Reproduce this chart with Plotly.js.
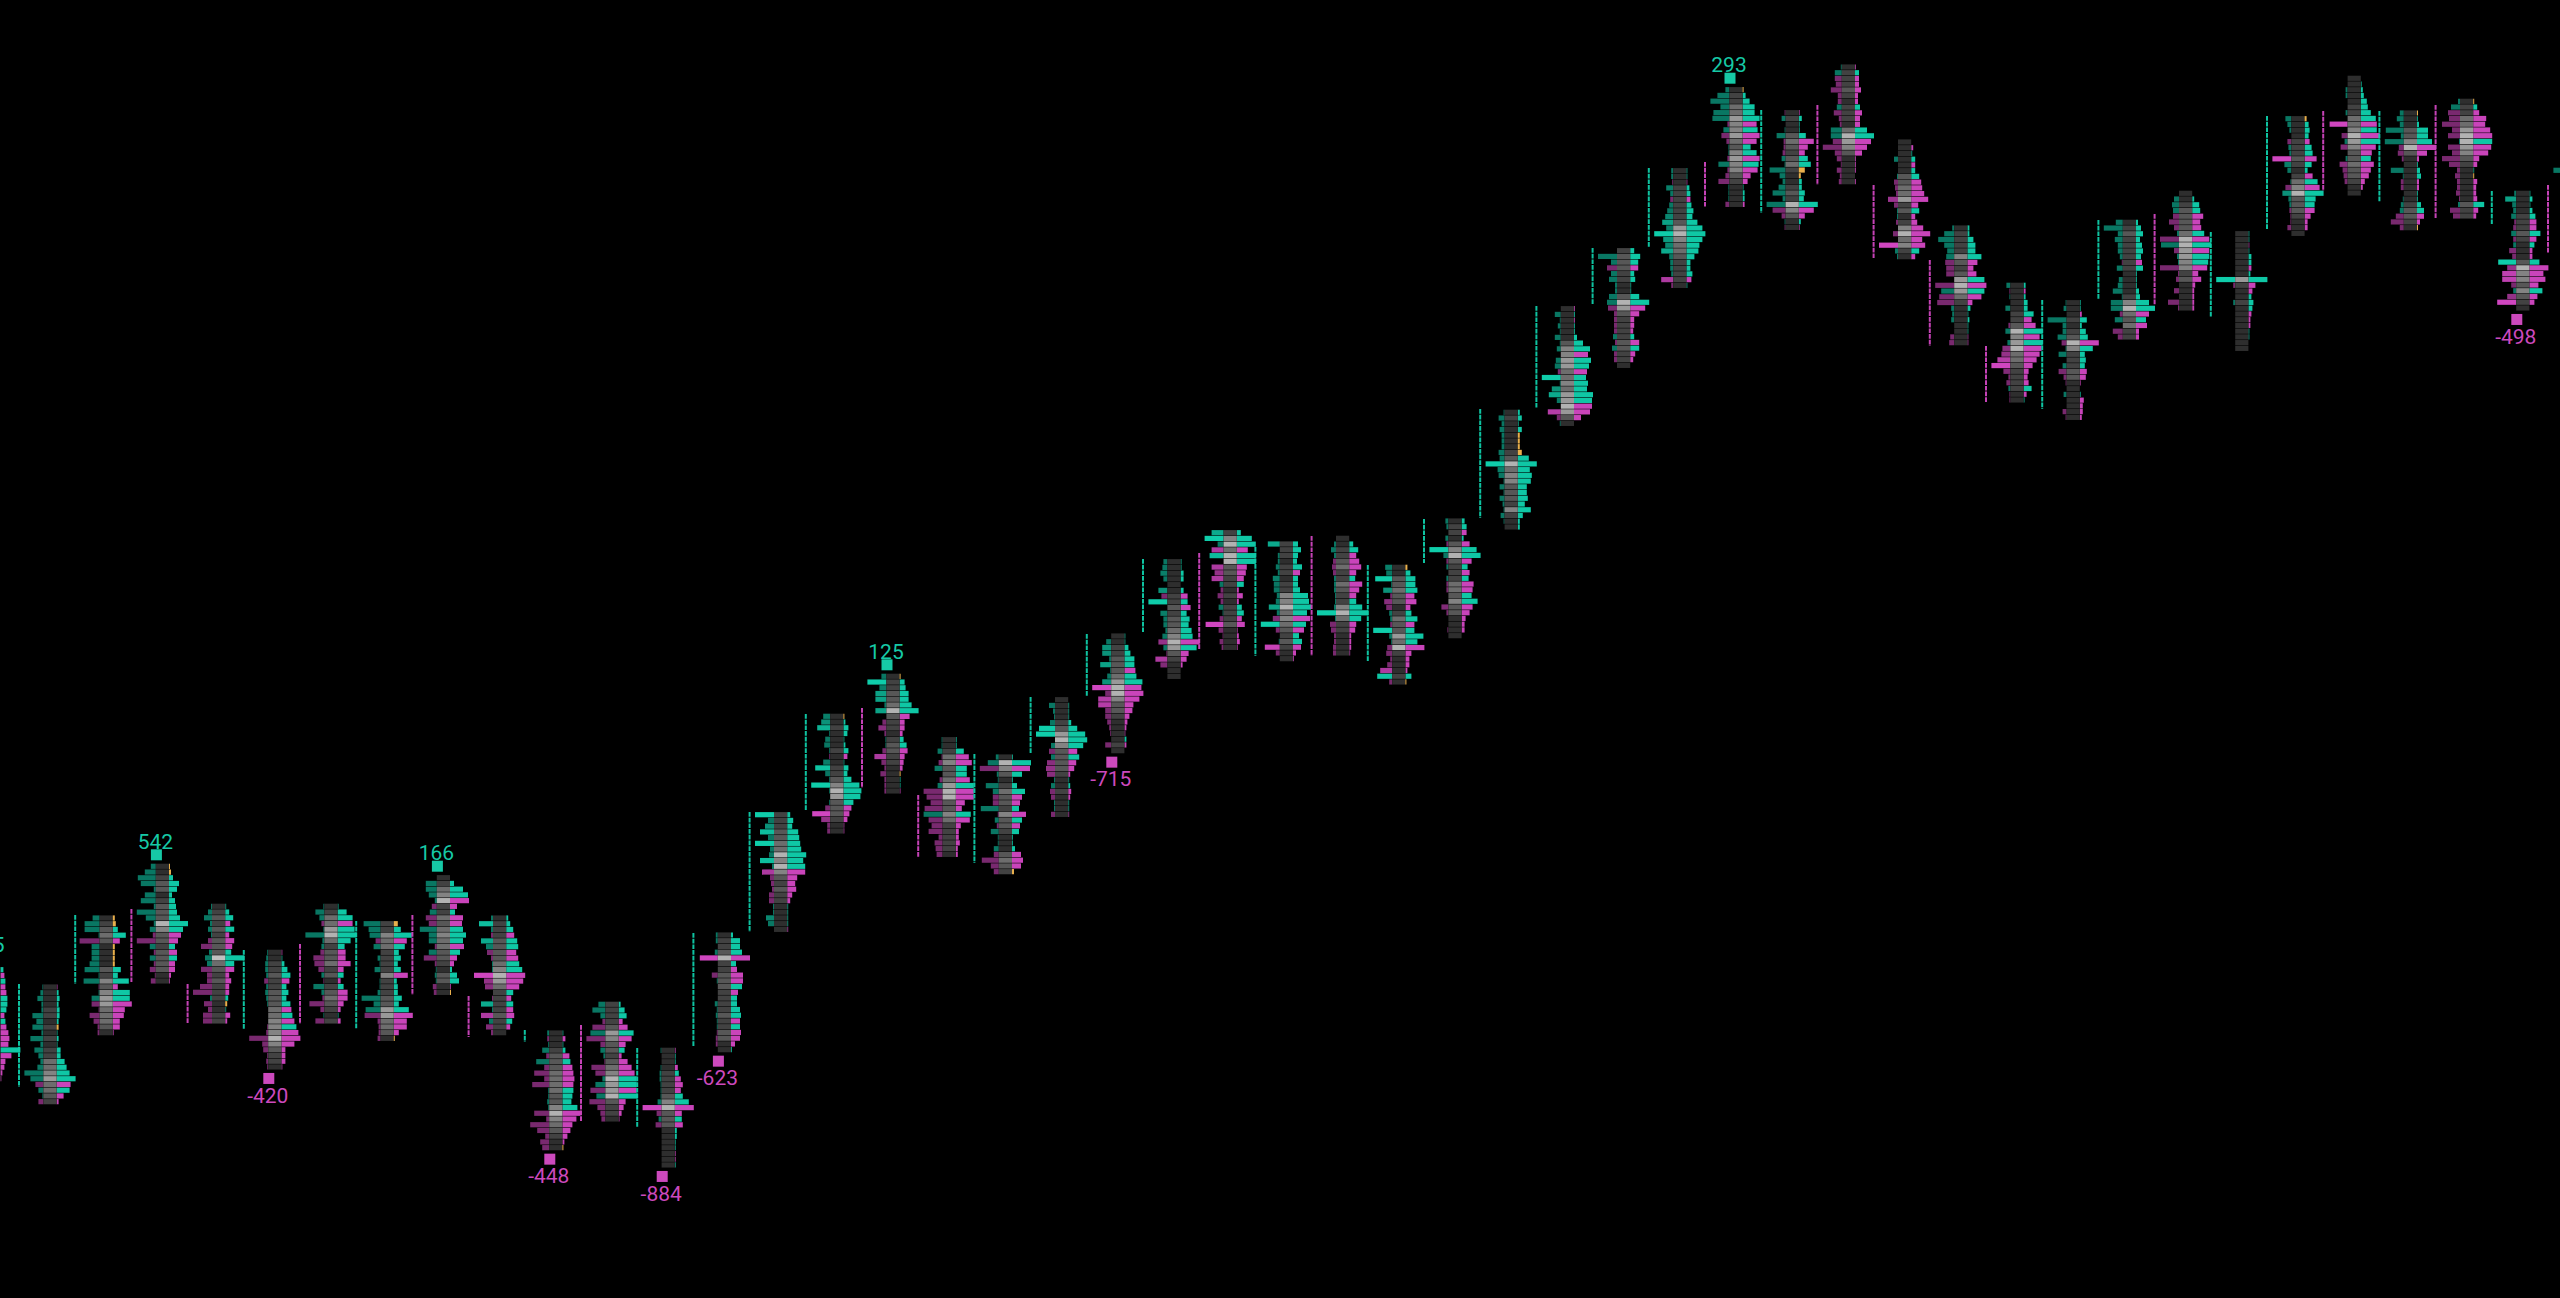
<!DOCTYPE html>
<html><head><meta charset="utf-8">
<script src="https://cdn.plot.ly/plotly-3.0.1.min.js"></script>
<style>html,body{margin:0;padding:0;background:#000;overflow:hidden}#chart{width:2560px;height:1298px}</style>
</head><body><div id="chart"></div>
<script>
// Each candle: rows of [left, right, midShade]. Sign: + buy (teal), - sell (magenta).
const cm1=[[0,3,1],[0,-4,1],[0,5,1],[0,-5,1],[0,-6,1],[0,7,1],[0,7,1],[0,6,1],[0,-4,1],[0,5,1],[0,-6,1],[0,-8,1],[0,-9,1],[0,-8,1],[0,20,1],[0,-11,1],[0,-5,1],[0,-4,1],[0,-2,1],[0,-1,1]];
const c00=[[1,-1,1],[3,2,1],[6,3,1],[2,2,1],[2,3,2],[11,3,2],[7,2,1],[11,0,2],[2,1,1],[13,2,2],[3,1,1],[9,4,2],[5,4,2],[3,8,4],[6,10,4],[19,13,5],[13,19,6],[-8,-14,4],[5,13,4],[1,-7,3],[-5,-2,2]];
const c01=[[7,0,1],[15,0,2],[15,5,3],[1,13,4],[-20,-7,3],[8,0,1],[8,0,1],[8,0,1],[10,0,1],[15,8,3],[1,5,2],[16,16,5],[-1,-5,3],[1,17,5],[8,17,6],[-8,-19,6],[-1,-12,4],[-10,-11,4],[-6,-7,4],[-2,-7,3],[-2,-1,1]];
const c02=[[5,0,1],[11,0,1],[18,4,2],[15,10,3],[2,8,3],[11,3,1],[15,6,2],[2,7,3],[19,8,3],[10,11,3],[2,19,7],[6,14,5],[-3,-12,3],[-19,-9,3],[6,6,2],[-2,-8,3],[6,8,3],[-2,-6,3],[-6,-6,3],[-1,-2,1],[-5,-1,1]];
const c03=[[1,1,1],[4,4,2],[8,8,3],[2,-5,2],[4,9,3],[1,-4,2],[-4,-9,3],[-11,-7,3],[3,6,3],[7,19,8],[5,9,4],[-11,-9,3],[-5,-4,2],[-5,-6,3],[-12,-4,2],[-19,-4,2],[2,3,2],[-8,0,1],[-4,1,1],[-9,-5,2],[-9,-2,2]];
const c04=[[1,-1,1],[2,1,1],[3,3,2],[3,6,2],[2,9,3],[-4,-8,2],[2,5,2],[3,7,3],[2,5,3],[1,9,3],[0,-10,4],[0,11,4],[0,-13,5],[-1,15,5],[-2,-17,5],[-19,-19,7],[-6,-13,5],[-5,-4,3],[-1,-4,2],[-2,-4,2],[-1,-1,1]];
const c05=[[1,1,1],[9,9,2],[5,15,4],[-3,-15,4],[1,17,6],[19,19,7],[2,13,4],[3,7,2],[-4,-8,3],[-11,-8,3],[-10,-13,4],[-6,-6,2],[3,6,3],[-1,-3,1],[11,6,2],[3,-10,3],[-2,-10,4],[-15,-6,3],[-4,-3,2],[1,1,1],[-9,-3,2]];
const c06=[[17,0,2],[12,7,2],[11,18,5],[-5,-13,4],[7,11,4],[0,5,2],[3,7,2],[1,4,2],[6,7,2],[0,-14,5],[1,3,2],[1,4,2],[3,4,2],[19,8,3],[7,5,3],[15,15,6],[-16,-19,6],[-3,-13,4],[-2,-13,4],[-2,-5,3],[-3,0,1]];
const c07=[[0,0,1],[11,4,2],[11,13,4],[8,18,5],[2,-19,7],[-5,-7,2],[7,5,2],[-11,-13,4],[-8,-12,3],[17,13,4],[8,16,5],[8,13,4],[-2,-14,4],[8,10,3],[-13,-7,3],[-2,-4,2],[1,2,1],[2,7,3],[1,9,3],[-4,-1,1],[-3,0,1]];
const c08=[[2,2,1],[14,4,2],[2,7,2],[-2,-8,2],[12,11,3],[7,12,3],[-6,-10,3],[-2,-12,3],[1,13,4],[1,16,5],[-19,-19,7],[-9,-17,6],[-8,-13,4],[0,7,2],[-1,-5,2],[12,7,2],[1,-7,2],[-12,-8,3],[4,6,2],[-7,-4,2],[-2,0,1]];
const c09=[[2,1,1],[-2,-3,1],[1,1,1],[7,3,2],[-3,-7,3],[13,8,3],[-5,-10,3],[-15,-11,4],[-5,-12,4],[-17,-11,4],[1,11,4],[1,10,3],[2,9,3],[1,15,5],[-15,-18,7],[-3,-14,5],[-19,-10,4],[-12,-8,3],[-4,-5,2],[-9,-2,1],[-7,0,1]];
const c10=[[7,2,2],[13,6,2],[5,8,2],[-3,-4,2],[-13,-9,3],[15,15,6],[-19,-13,5],[-5,-7,3],[5,6,3],[2,-3,2],[-1,-9,3],[-14,-13,4],[-10,-16,5],[3,18,7],[10,18,6],[-15,-18,6],[9,19,7],[-16,-7,3],[-8,-5,2],[-5,-3,2],[-4,-1,1]];
const c11=[[1,-1,1],[0,1,1],[0,1,1],[1,-3,1],[2,4,2],[2,-6,2],[1,-8,2],[1,-6,2],[1,8,3],[4,14,5],[-19,-19,7],[-5,-7,3],[3,7,3],[-6,-8,3],[0,2,1],[0,2,1],[0,1,1],[0,1,1],[0,-1,1],[0,-1,1],[0,1,1]];
const c12=[[2,2,1],[2,9,2],[0,9,2],[3,11,3],[-18,-19,7],[0,5,2],[0,-6,2],[-6,-12,3],[1,-12,3],[0,11,3],[0,-7,2],[0,6,2],[3,6,2],[1,9,2],[2,10,3],[1,-9,2],[1,9,2],[-1,-10,3],[-2,-9,3],[-2,-4,1],[0,1,1]];
const c13=[[19,3,2],[6,6,2],[9,5,2],[14,11,3],[6,12,3],[19,13,4],[4,14,4],[5,19,7],[14,16,5],[2,18,7],[-12,-18,5],[-4,-10,3],[-3,-8,2],[-2,-9,3],[-5,-5,2],[-5,-3,2],[1,1,1],[1,1,1],[8,1,1],[6,1,1],[0,-1,1]];
const c14=[[7,0,1],[9,2,1],[13,5,2],[1,4,1],[5,1,1],[6,2,1],[1,5,2],[-1,-4,1],[7,1,1],[15,5,2],[5,4,2],[1,8,3],[19,16,5],[1,18,7],[0,17,6],[1,10,3],[-5,-8,3],[-18,-6,3],[-9,-4,2],[-3,-1,1],[-3,-1,1]];
const c15=[[5,0,1],[19,5,2],[7,6,2],[11,9,3],[11,9,3],[2,12,4],[11,19,7],[0,-10,3],[-4,-5,2],[-8,-5,2],[-2,-3,1],[1,4,2],[1,7,3],[-4,-8,3],[-12,-5,2],[-5,-4,2],[-2,-3,1],[-6,0,1],[-2,1,1],[-2,1,1],[-2,-1,1]];
const c16=[[1,1,1],[1,1,1],[5,8,2],[-1,-13,4],[-4,-16,5],[8,11,3],[0,11,3],[-3,-14,4],[5,18,6],[-19,-18,7],[-16,-18,7],[-12,-9,3],[-18,-6,3],[19,15,5],[-14,-14,4],[-11,-5,2],[-14,-3,2],[-4,-3,2],[-8,-4,2],[-7,-2,2],[-6,-2,1]];
const c17=[[3,1,1],[11,19,7],[-19,-18,5],[2,10,3],[1,1,1],[13,5,2],[6,13,4],[-6,-10,3],[-6,-8,3],[18,7,2],[-1,-14,5],[4,10,3],[-2,-8,3],[8,7,2],[1,1,1],[1,1,1],[5,3,1],[-5,-9,3],[-17,-11,4],[-8,-9,3],[-5,0,2]];
const c18=[[0,0,1],[6,1,1],[2,1,1],[1,1,1],[5,3,2],[16,9,3],[19,17,6],[0,19,7],[4,15,5],[-6,-9,3],[4,11,3],[-8,-8,3],[-9,-6,3],[-8,-2,2],[1,1,1],[4,2,1],[-5,-3,2],[-4,-2,1],[1,1,1],[1,1,1],[-4,-1,1]];
const c19=[[0,1,1],[5,1,1],[9,4,2],[9,6,2],[2,10,3],[11,10,3],[1,-11,3],[4,12,4],[9,18,6],[-19,-17,7],[-6,-19,7],[-13,-15,5],[-13,-9,3],[-6,-8,3],[-6,-5,2],[-4,-3,1],[-2,-2,1],[-1,-1,1],[0,2,1],[-6,-2,2],[0,0,1]];
const c20=[[4,1,1],[5,1,1],[7,3,1],[4,3,1],[0,0,1],[9,3,1],[-6,-7,2],[19,7,2],[0,-10,3],[7,6,2],[4,9,3],[4,8,3],[2,11,4],[5,12,5],[-9,-19,7],[4,16,6],[-1,-8,3],[-12,-6,2],[-7,-2,1],[0,0,1],[0,0,1]];
const c21=[[12,4,2],[19,15,5],[6,19,7],[-12,-11,4],[14,19,7],[0,19,7],[-12,-10,3],[-9,-9,3],[-12,-7,2],[4,7,2],[-3,-2,1],[-6,-6,2],[-3,-2,1],[5,5,2],[1,7,2],[-4,-5,2],[-18,-8,3],[-5,-1,1],[-1,-2,1],[-4,-3,1],[-2,-1,1]];
const c22=[[12,5,2],[0,8,2],[2,5,2],[2,4,1],[4,9,2],[2,-7,2],[7,5,1],[6,5,2],[6,7,2],[3,15,5],[4,16,5],[11,18,7],[3,14,4],[-7,-17,5],[19,13,4],[-4,-11,3],[0,6,2],[1,9,3],[-15,-8,2],[-4,-3,1],[0,-1,1]];
const c23=[[0,0,1],[2,4,1],[5,9,2],[2,-7,2],[-3,-10,3],[-4,-12,4],[-3,-7,2],[2,6,2],[2,-13,4],[2,-10,3],[1,-7,2],[1,7,2],[2,13,5],[19,19,7],[1,12,4],[-6,-7,2],[-5,-6,2],[-2,-2,1],[-2,-2,1],[-3,-2,1],[-3,-1,1]];
const c24=[[7,0,1],[6,5,1],[17,10,3],[1,10,3],[9,12,4],[-2,-9,3],[-8,-11,3],[-6,-5,1],[3,6,2],[2,12,4],[-2,-9,3],[19,9,3],[3,18,6],[1,12,4],[-5,-19,7],[-6,-6,2],[-2,-4,1],[-5,-4,1],[-12,-2,1],[15,6,2],[-3,0,1]];
const c25=[[3,3,1],[2,5,2],[0,-5,2],[3,2,1],[-2,-8,3],[19,15,5],[5,19,7],[-2,-10,3],[2,6,2],[0,-8,2],[2,7,2],[-2,-12,4],[-2,-11,4],[0,10,3],[0,16,5],[-7,-11,3],[-2,-8,3],[0,-4,1],[0,-3,1],[-1,-3,1],[0,0,1]];
const c26=[[1,2,1],[6,4,2],[3,1,1],[5,4,1],[3,0,1],[3,0,1],[3,0,1],[6,0,2],[5,11,3],[19,19,7],[7,12,4],[6,14,5],[1,13,5],[5,9,3],[1,9,3],[5,10,3],[2,7,2],[1,13,5],[4,5,2],[1,2,1],[0,2,1]];
const c27=[[0,-1,1],[6,1,1],[1,-1,1],[3,1,1],[1,1,1],[6,3,1],[1,9,3],[4,16,5],[0,-14,5],[5,17,6],[6,15,6],[-3,-13,4],[19,12,4],[1,14,5],[9,13,4],[12,19,6],[4,18,6],[0,-18,7],[-13,-16,6],[-4,-7,3],[1,0,1]];
const c28=[[0,4,2],[19,10,3],[6,8,3],[-10,-8,3],[6,4,2],[8,5,2],[2,1,1],[2,1,1],[8,9,3],[10,19,7],[-9,-15,6],[-3,-9,3],[-3,-4,2],[-3,-4,2],[-3,-3,2],[4,4,2],[-2,-9,3],[5,9,3],[-3,-5,2],[-3,-3,2],[0,0,1]];
const c29=[[2,1,1],[2,1,1],[-1,-1,1],[7,3,2],[3,4,2],[-3,-4,2],[4,5,2],[6,7,2],[8,6,2],[11,11,3],[7,16,6],[19,19,7],[10,16,5],[8,13,4],[12,12,4],[4,8,3],[3,4,2],[3,4,2],[2,6,2],[-12,-5,2],[-2,1,1]];
const c30=[[4,0,1],[12,3,2],[19,7,2],[9,12,4],[16,12,4],[17,17,6],[-2,-14,5],[6,15,5],[-8,-17,6],[-3,-14,4],[1,8,3],[1,14,5],[-2,-17,6],[11,16,5],[-2,-15,5],[-4,-8,3],[-11,-5,2],[1,1,1],[1,2,1],[1,2,1],[-4,-2,1]];
const c31=[[-1,-1,1],[4,3,2],[0,1,1],[1,1,1],[9,7,3],[-2,-15,4],[-2,-9,3],[-3,-6,2],[4,9,3],[1,12,4],[16,0,2],[6,0,1],[3,3,1],[7,3,2],[13,6,3],[3,5,2],[19,19,7],[-13,-15,5],[-4,-6,3],[1,2,1],[-1,-1,1]];
const c32=[[1,-1,1],[7,4,2],[-7,-4,2],[-6,-4,2],[-11,-6,3],[-4,-3,2],[-4,-3,1],[5,5,2],[-8,-7,2],[-3,-5,2],[-2,-5,1],[11,12,4],[11,19,7],[-9,-16,6],[-19,-12,5],[-7,-7,3],[-5,-1,1],[-1,-1,1],[-5,-1,1],[-2,0,1],[-3,-1,1]];
const c33=[[0,0,1],[0,-2,1],[0,1,1],[4,4,1],[0,-4,1],[0,4,1],[1,8,3],[-4,-10,3],[-3,-11,4],[-2,-13,4],[-10,-17,6],[-4,-7,2],[1,8,3],[1,-4,1],[-2,-6,2],[0,-12,5],[-5,-19,7],[0,-11,4],[-19,-14,5],[3,8,2],[1,-4,1]];
const c34=[[2,2,1],[10,2,2],[16,6,2],[10,8,2],[7,8,2],[8,14,5],[-9,-10,3],[-8,-6,2],[-8,-9,3],[0,17,6],[-19,-19,7],[13,17,6],[-15,-14,4],[-17,-5,2],[3,3,1],[2,1,1],[3,2,1],[0,1,1],[0,1,1],[-4,-1,1],[-5,-1,1]];
const c35=[[4,2,1],[-1,-2,1],[1,2,1],[0,4,1],[5,4,1],[0,10,2],[0,-8,2],[-2,-12,3],[5,19,7],[0,-16,5],[3,19,6],[-8,-18,7],[-9,-16,4],[-13,-13,4],[-19,-9,3],[-7,-5,2],[-2,-4,2],[-4,-5,2],[2,8,2],[-1,-3,1],[-1,1,1]];
const c36=[[1,1,1],[3,1,1],[0,-2,1],[19,7,2],[4,2,1],[4,6,2],[9,8,3],[-5,-19,7],[1,13,5],[8,5,2],[0,6,2],[4,5,2],[-8,-7,3],[-3,-6,3],[-1,-1,1],[0,0,1],[3,1,1],[0,-4,1],[0,-3,1],[-4,-3,1],[-1,-2,1]];
const c37=[[7,2,1],[19,5,2],[5,7,3],[8,4,2],[5,6,2],[5,7,2],[3,5,2],[-1,-6,2],[6,7,2],[0,1,1],[4,1,1],[5,1,1],[10,3,1],[1,4,2],[12,13,5],[12,19,7],[-3,-13,4],[8,10,3],[0,-11,4],[-10,-3,2],[-5,-3,2]];
const c38=[[0,0,1],[5,2,1],[7,7,2],[6,8,3],[-6,-11,3],[-10,-8,3],[-5,-9,3],[2,12,4],[-19,-17,7],[18,19,7],[-5,-17,6],[2,17,6],[1,16,5],[-19,-15,5],[-1,-6,2],[-3,-9,3],[0,-3,1],[-5,-2,1],[0,-2,1],[-11,-2,1],[-1,-2,1]];
const c39=[[0,1,1],[0,1,1],[0,-1,1],[0,1,1],[0,3,1],[0,3,1],[0,-3,1],[0,2,1],[19,19,6],[-2,-7,2],[0,-4,1],[0,3,1],[2,5,2],[0,4,1],[0,-3,1],[0,-2,1],[0,-2,1],[0,1,1],[0,1,1],[0,0,1],[0,0,1]];
const c40=[[6,0,1],[4,4,1],[2,5,1],[0,4,1],[-4,-5,2],[3,7,2],[2,8,2],[-19,-12,3],[7,7,2],[4,3,1],[0,-8,2],[1,13,4],[-6,-15,5],[9,19,7],[3,11,3],[2,10,3],[-2,-10,3],[-1,-6,2],[-1,-3,1],[-4,-3,1],[0,0,1]];
const c41=[[0,0,1],[0,1,1],[2,2,1],[2,3,1],[0,6,1],[0,7,2],[2,10,2],[0,15,4],[-18,-16,4],[0,16,5],[-6,-19,7],[3,19,6],[-7,-15,5],[0,-11,3],[2,10,3],[-8,-13,4],[-5,-10,3],[-4,-8,3],[-3,-4,2],[0,-2,1],[0,0,1]];
const c42=[[4,0,1],[7,1,1],[4,2,1],[18,11,3],[3,11,3],[19,15,5],[-5,-19,7],[-6,-10,3],[-2,-2,1],[0,1,1],[13,3,1],[1,4,1],[-3,-2,1],[-3,-2,1],[0,1,1],[1,1,1],[3,4,2],[4,7,3],[-8,-7,3],[-13,-3,2],[-4,0,1]];
const c43=[[2,0,1],[9,4,2],[-12,-6,2],[-11,-13,4],[-18,-12,4],[-8,-17,6],[-12,-19,7],[1,19,7],[-12,-18,6],[-8,-15,5],[-18,-6,3],[-11,-4,2],[-3,1,1],[-5,0,1],[-3,-4,1],[-3,-3,1],[-4,-3,1],[-1,-4,1],[2,11,3],[-10,-5,2],[-7,-3,2]];
const c44=[[2,1,1],[11,3,1],[4,1,1],[3,3,1],[5,6,2],[-2,-7,2],[-3,-7,2],[5,11,3],[-3,-7,2],[3,5,1],[-7,-3,1],[-4,-3,1],[18,10,3],[-9,-19,7],[-14,-14,5],[-14,-16,5],[-5,-9,3],[3,13,5],[-9,-8,3],[-19,-5,2],[0,0,1]];
const c45=[[19,0,1]];
const candles=[cm1,c00,c01,c02,c03,c04,c05,c06,c07,c08,c09,c10,c11,c12,c13,c14,c15,c16,c17,c18,c19,c20,c21,c22,c23,c24,c25,c26,c27,c28,c29,c30,c31,c32,c33,c34,c35,c36,c37,c38,c39,c40,c41,c42,c43,c44,c45];
const firstCandle=-1;
// Level of each candle's top row (axis runs downward).
const candleTop=[969.7,987,918,866.3,906.3,952.3,906.3,923.7,877.7,918,1033,1004.3,1050.3,935,814.7,716.3,676.3,739.7,757,699.7,636,561.7,532.7,544,538.3,567.3,521,412.3,308.7,250.7,170.7,89.7,112.7,67,142,228,285.3,302.7,222.3,193.3,233.7,118.7,78.3,113,101.3,193.3,170.3];
// Open/close range per candle from k=0: [from, to]. Sign of bodyDir: + teal, - magenta.
const bodyFrom=[984,915,909,984,950,944,921,915,996,1030,1025,1048,933,812,714,708,795,754,697,634,559,553,547,536,565,519,409,306,248,168,162,110,105,185,260,346,300,220,214,232,116,111,111,105,191,185];
const bodyTo=[1087,984,983,1023,1029,1024,1029,995,1037,1042,1122,1127,1047,932,811,788,857,863,753,696,633,650,656,656,662,563,518,408,305,247,207,213,185,259,346,403,409,299,305,317,230,191,202,219,224,253];
const bodyDir=[1,1,-1,-1,1,-1,1,-1,-1,1,-1,1,1,1,1,-1,-1,1,1,1,1,-1,1,-1,1,1,1,1,1,1,-1,1,-1,-1,-1,-1,1,1,-1,1,1,-1,1,-1,1,-1];
// Rows coloured amber: [candle, row, size]
const amberMarks=[[0,7,2],[1,0,2],[1,1,3],[1,5,2],[1,6,2],[1,7,2],[1,8,2],[2,0,1],[2,1,2],[3,17,2],[6,0,4],[6,20,1],[7,20,1],[9,20,1],[14,0,1],[15,0,1],[15,17,1],[17,20,2],[24,0,2],[24,20,1],[26,4,2],[26,5,2],[26,6,2],[26,7,4],[30,0,1],[31,10,6],[31,11,2],[40,0,2],[42,0,1],[42,20,1],[43,0,1],[43,13,1]];
// Candles whose long left bars are drawn at full strength.
const strongLeft=[8,11,12,13,14,15,18,19,20,21,22,23,24,25,26,27,29,33,35,39,40,41,44];
// Delta labels: candle, value
const extremeCandle=[-1,2,7,15,30,4,9,11,12,19,44];
const extremeValue=[345,542,166,125,293,-420,-448,-884,-623,-715,-498];

const TEAL=[15,205,170], MAG=[208,70,192], AMBER='#e9b04c';
const SHADE=['#000','#2e2e2e','#424242','#575757','#6d6d6d','#838383','#999999','#b2b2b2','#c0c0c0'];
const candleX=k=>50+56.2*k, HALF=6.6, PITCH=5.733, BODY_OFFSET=31, BAR=5.2;
const rgba=(c,a)=>`rgba(${c[0]},${c[1]},${c[2]},${a})`;

const L={y:[],x:[],base:[],c:[]},R={y:[],x:[],base:[],c:[]},M={y:[],x:[],base:[],c:[]},A={y:[],x:[],base:[]};
candles.forEach((rows,i)=>{
  const k=i+firstCandle,cx=candleX(k),top=candleTop[i];
  rows.forEach((r,j)=>{
    const y=top+j*PITCH;
    M.y.push(y);M.x.push(2*HALF);M.base.push(cx-HALF);M.c.push(SHADE[r[2]]);
    if(r[0]){
      const n=Math.abs(r[0]);
      const a=strongLeft.includes(k)?0.58+0.42*Math.max(0,Math.min(1,(n-6)/10)):0.58;
      L.y.push(y);L.x.push(-n);L.base.push(cx-HALF);L.c.push(rgba(r[0]>0?TEAL:MAG,a.toFixed(2)));
    }
    if(r[1]){
      R.y.push(y);R.x.push(Math.abs(r[1]));R.base.push(cx+HALF);R.c.push(rgba(r[1]>0?TEAL:MAG,Math.abs(r[1])<2?0.75:0.97));
    }
  });
});
amberMarks.forEach(m=>{
  const i=m[0]-firstCandle;
  A.y.push(candleTop[i]+m[1]*PITCH);A.x.push(m[2]);A.base.push(candleX(m[0])+HALF);
});
const barTrace=(o,c)=>({type:'bar',orientation:'h',y:o.y,x:o.x,base:o.base,width:BAR,hoverinfo:'skip',marker:{color:c||o.c,line:{width:0}}});
const traces=[barTrace(L),barTrace(R),barTrace(M),barTrace(A,AMBER)];

// Open-close range lines
[1,-1].forEach(d=>{
  const xs=[],ys=[];
  bodyDir.forEach((v,i)=>{if(v===d){const x=candleX(i)-BODY_OFFSET;xs.push(x,x,null);ys.push(bodyFrom[i],bodyTo[i],null);}});
  traces.push({type:'scatter',mode:'lines',x:xs,y:ys,hoverinfo:'skip',line:{color:rgba(d>0?TEAL:MAG,0.95),width:2,dash:'4.7px,1px'}});
});
// Extreme markers and labels
[1,-1].forEach(s=>{
  const mx=[],my=[],tx=[],ty=[],tt=[];
  extremeCandle.forEach((k,n)=>{
    const v=extremeValue[n];
    if(Math.sign(v)!==s)return;
    const i=k-firstCandle,rows=candles[i].length;
    const yy=s>0?candleTop[i]-11.5:candleTop[i]+(rows-1)*PITCH+11.5;
    mx.push(candleX(k)-6);my.push(yy);
    tx.push(candleX(k)-7);ty.push(yy+(s>0?-11.5:19));tt.push(String(v));
  });
  const col=s>0?'#16c9a6':'#cc49bd';
  traces.push({type:'scatter',mode:'markers',x:mx,y:my,hoverinfo:'skip',marker:{symbol:'square',size:11,color:col,line:{width:0}}});
  traces.push({type:'scatter',mode:'text',x:tx,y:ty,text:tt,textposition:'middle center',hoverinfo:'skip',textfont:{family:'Roboto',size:21,color:col}});
});

Plotly.newPlot('chart',traces,{
  width:2560,height:1298,margin:{l:0,r:0,t:0,b:0,pad:0},showlegend:false,
  paper_bgcolor:'#000',plot_bgcolor:'#000',barmode:'overlay',
  xaxis:{range:[0,2560],visible:false,fixedrange:true},
  yaxis:{range:[1298,0],visible:false,fixedrange:true}
},{displayModeBar:false,staticPlot:true});
</script></body></html>
